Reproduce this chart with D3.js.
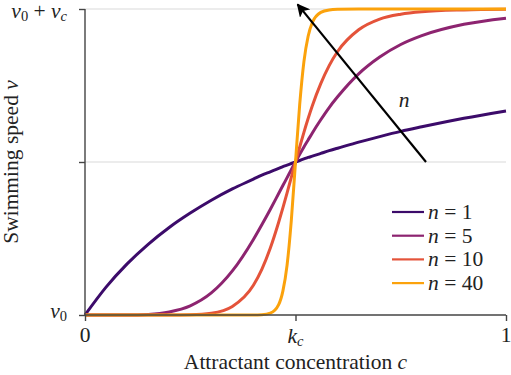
<!DOCTYPE html>
<html>
<head>
<meta charset="utf-8">
<script src="https://cdn.jsdelivr.net/npm/d3@7"></script>
<style>
  body { margin: 0; background: #fff; }
  .math { font-style: italic; }
</style>
</head>
<body>
<div id="chart"></div>
<script>
// concentration samples (fraction of axis, k_c = 0.5)
var conc = [0, 0.05, 0.1, 0.15, 0.2, 0.25, 0.3, 0.35, 0.4, 0.42, 0.44, 0.46, 0.47, 0.48, 0.49,
            0.5, 0.51, 0.52, 0.53, 0.54, 0.56, 0.58, 0.6, 0.65, 0.7, 0.75, 0.8, 0.9, 1];

// normalised speed (v - v0) / vc
var speedN1  = [0, 0.091, 0.167, 0.231, 0.286, 0.333, 0.375, 0.412, 0.444, 0.457, 0.468, 0.479, 0.485, 0.490, 0.495,
                0.5, 0.505, 0.510, 0.515, 0.519, 0.528, 0.537, 0.545, 0.565, 0.583, 0.6, 0.615, 0.643, 0.667];
var speedN5  = [0, 0, 0, 0.002, 0.010, 0.030, 0.072, 0.144, 0.247, 0.295, 0.345, 0.397, 0.423, 0.449, 0.475,
                0.5, 0.525, 0.549, 0.572, 0.595, 0.638, 0.678, 0.713, 0.788, 0.843, 0.884, 0.913, 0.950, 0.970];
var speedN10 = [0, 0, 0, 0, 0, 0.001, 0.006, 0.028, 0.097, 0.149, 0.218, 0.303, 0.350, 0.399, 0.450,
                0.5, 0.549, 0.597, 0.642, 0.684, 0.756, 0.815, 0.861, 0.932, 0.967, 0.983, 0.991, 0.997, 0.999];
var speedN40 = [0, 0, 0, 0, 0, 0, 0, 0, 0, 0.001, 0.006, 0.034, 0.078, 0.163, 0.308,
                0.5, 0.688, 0.828, 0.911, 0.956, 0.989, 0.997, 0.999, 1, 1, 1, 1, 1, 1];

var seriesNames = ["n = 1", "n = 5", "n = 10", "n = 40"];
var seriesColors = ["#3c0b6a", "#8d2470", "#e4533a", "#fba20c"];
var allSpeeds = [speedN1, speedN5, speedN10, speedN40];

var svgWidth = 511, svgHeight = 375;
var margin = { top: 9, right: 5, bottom: 60, left: 85 };
var width = svgWidth - margin.left - margin.right;
var height = svgHeight - margin.top - margin.bottom;
var fontStack = "'Liberation Serif', 'Times New Roman', serif";

var svg = d3.select("#chart").append("svg")
    .attr("width", svgWidth)
    .attr("height", svgHeight)
    .style("font-family", fontStack);

var g = svg.append("g")
    .attr("transform", "translate(" + margin.left + "," + margin.top + ")");

var x = d3.scaleLinear().domain([0, 1]).range([0, width]);
var y = d3.scaleLinear().domain([0, 1]).range([height, 0]);

// grid lines at half and full speed
g.selectAll(".grid")
    .data([0.5, 1])
    .enter().append("line")
    .attr("x1", 0).attr("x2", width)
    .attr("y1", function(d) { return y(d); })
    .attr("y2", function(d) { return y(d); })
    .attr("stroke", "#d9d9d9")
    .attr("stroke-width", 1.2);

// curves
var line = d3.line()
    .x(function(d) { return x(d[0]); })
    .y(function(d) { return y(d[1]); })
    .curve(d3.curveMonotoneX);

allSpeeds.forEach(function(s, i) {
    g.append("path")
        .datum(conc.map(function(c, j) { return [c, s[j]]; }))
        .attr("fill", "none")
        .attr("stroke", seriesColors[i])
        .attr("stroke-width", 3)
        .attr("d", line);
});

// axes
var xAxis = d3.axisBottom(x).tickValues([0, 0.5, 1]).tickSize(6).tickFormat("");
var yAxis = d3.axisLeft(y).tickValues([0, 0.5, 1]).tickSize(6).tickFormat("");

var xg = g.append("g").attr("transform", "translate(0," + height + ")").call(xAxis);
var yg = g.append("g").call(yAxis);
[xg, yg].forEach(function(a) {
    a.select(".domain").attr("stroke", "#444").attr("stroke-width", 1.4);
    a.selectAll(".tick line").attr("stroke", "#444").attr("stroke-width", 1.4);
});
yg.select(".domain").attr("d", "M0," + height + "V0");
xg.select(".domain").attr("d", "M0,0H" + width);

var fs = 21.5, sub = 14.5;

function label(sel) {
    return sel.append("text").attr("font-size", fs).attr("fill", "#222")
        .style("font-family", fontStack);
}

// tick labels
label(g).attr("x", x(0)).attr("y", height + 27).attr("text-anchor", "middle").text("0");
label(g).attr("x", x(1)).attr("y", height + 27).attr("text-anchor", "middle").text("1");
var kc = label(g).attr("x", x(0.5)).attr("y", height + 28).attr("text-anchor", "middle");
kc.append("tspan").attr("class", "math").text("k");
kc.append("tspan").attr("class", "math").attr("font-size", sub).attr("dy", 3).text("c");

var v0 = label(g).attr("x", -18).attr("y", y(0) + 3).attr("text-anchor", "end");
v0.append("tspan").attr("class", "math").text("v");
v0.append("tspan").attr("font-size", sub).attr("dy", 3).text("0");

var vtop = label(g).attr("x", -18).attr("y", y(1) + 9).attr("text-anchor", "end");
vtop.append("tspan").attr("class", "math").text("v");
vtop.append("tspan").attr("font-size", sub).attr("dy", 3).text("0");
vtop.append("tspan").attr("dy", -3).text(" + ");
vtop.append("tspan").attr("class", "math").text("v");
vtop.append("tspan").attr("class", "math").attr("font-size", sub).attr("dy", 3).text("c");

// axis titles
var xt = label(g).attr("x", width / 2).attr("y", height + 54).attr("text-anchor", "middle");
xt.append("tspan").text("Attractant concentration ");
xt.append("tspan").attr("class", "math").text("c");

var yt = label(g)
    .attr("transform", "translate(" + (-margin.left + 18) + "," + (height / 2) + ") rotate(-90)")
    .attr("text-anchor", "middle");
yt.append("tspan").text("Swimming speed ");
yt.append("tspan").attr("class", "math").text("v");

// arrow for increasing n
svg.append("defs").append("marker")
    .attr("id", "head")
    .attr("viewBox", "0 0 10 10")
    .attr("refX", 9).attr("refY", 5)
    .attr("markerWidth", 6).attr("markerHeight", 6)
    .attr("markerUnits", "strokeWidth")
    .attr("orient", "auto")
    .append("path").attr("d", "M0,0L10,5L0,10L2.5,5Z").attr("fill", "#000");

g.append("line")
    .attr("x1", x(0.81)).attr("y1", y(0.5))
    .attr("x2", x(0.505)).attr("y2", y(1.015))
    .attr("stroke", "#000").attr("stroke-width", 2.2)
    .attr("marker-end", "url(#head)");
label(g).attr("class", "math").attr("x", x(0.745)).attr("y", y(0.68)).text("n");

// legend
var legend = g.append("g").attr("transform", "translate(" + (width - 114) + "," + (height - 103) + ")");
seriesNames.forEach(function(name, i) {
    var row = legend.append("g").attr("transform", "translate(0," + (i * 23.7) + ")");
    row.append("line").attr("x1", 0).attr("x2", 32).attr("y1", 0).attr("y2", 0)
        .attr("stroke", seriesColors[i]).attr("stroke-width", 2.2);
    var t = label(row).attr("x", 36).attr("y", 7);
    t.append("tspan").attr("class", "math").text("n");
    t.append("tspan").text(" = " + name.split("= ")[1]);
});
</script>
</body>
</html>
